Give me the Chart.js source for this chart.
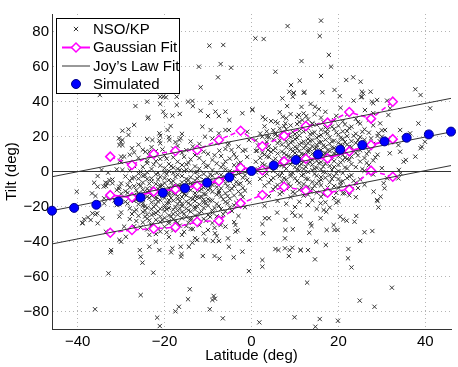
<!DOCTYPE html>
<html>
<head>
<meta charset="utf-8">
<script src="https://cdn.jsdelivr.net/npm/chart.js@4.4.1/dist/chart.umd.min.js"></script>
<style>
  html, body { margin: 0; padding: 0; background: #fff; }
</style>
</head>
<body>
<canvas id="tiltChart" width="458" height="367"></canvas>
<script>
// axis ticks
const latTicks = [-40, -20, 0, 20, 40];
const tiltTicks = [-80, -60, -40, -20, 0, 20, 40, 60, 80];

// NSO/KP observed regions [latitude, tilt]
const nsoSouth = [
  [-24,18.5],[-19,19.6],[-14,17.2],[-9,18.8],[-21,20.4],[-16,21.5],
  [-26,15.3],[-21,16.1],[-17,14.6],[-12,15.8],[-8,16.4],[-3,14.2],[-23,13.9],
  [-25,12.4],[-22,11.6],[-18,13.1],[-15,12.2],[-11,11.3],[-6,12.9],[-2,11.8],[-27,10.9],
  [-28,9.6],[-23,10.3],[-20,9.1],[-16,10.7],[-13,9.4],[-10,10.1],[-7,8.8],[-4,9.9],
  [-26,7.8],[-21,7.2],[-18,8.1],[-14,6.9],[-12,7.7],[-9,6.6],[-5,7.4],[-1,8.3],[-24,6.2],
  [-30,5.4],[-24,4.8],[-22,5.9],[-19,4.3],[-17,5.6],[-15,4.1],[-11,5.2],[-8,4.6],[-6,5.8],[-3,4.4],
  [-27,3.1],[-25,2.6],[-21,3.4],[-18,2.2],[-16,3.7],[-13,2.9],[-10,3.3],[-7,2.4],[-4,3.6],[-2,2.1],[-20,1.8],
  [-31,1.2],[-28,0.6],[-23,1.4],[-19,0.3],[-15,1.1],[-14,0.4],[-12,1.6],[-9,0.8],[-6,1.3],[-5,0.2],[-1,0.9],[-17,1.5],
  [-33,-0.7],[-26,-1.2],[-24,-0.4],[-22,-1.6],[-18,-0.9],[-17,-1.8],[-13,-0.6],[-11,-1.4],[-8,-0.8],[-7,-1.9],[-3,-1.1],[-20,-0.3],
  [-29,-2.8],[-27,-3.4],[-25,-2.5],[-21,-3.1],[-20,-3.8],[-16,-2.6],[-14,-3.3],[-12,-2.9],[-10,-3.6],[-9,-2.4],[-6,-3.2],[-4,-2.7],[-2,-3.5],[-23,-3.9],
  [-32,-4.6],[-28,-5.3],[-24,-4.4],[-23,-5.7],[-19,-4.9],[-18,-5.5],[-15,-4.3],[-13,-5.1],[-11,-4.7],[-8,-5.8],[-7,-4.2],[-5,-5.4],[-1,-4.8],[-26,-4.1],[-16,-6.2],
  [-30,-6.8],[-26,-7.4],[-25,-6.3],[-22,-7.1],[-20,-6.6],[-17,-7.8],[-14,-6.9],[-12,-7.3],[-10,-6.4],[-9,-7.7],[-6,-6.7],[-3,-7.2],[-21,-7.9],[-15,-6.1],
  [-34,-8.6],[-28,-9.1],[-27,-8.4],[-23,-9.5],[-21,-8.8],[-19,-9.3],[-18,-8.2],[-15,-9.7],[-13,-8.5],[-11,-9.2],[-8,-8.9],[-7,-9.6],[-4,-8.3],[-2,-9.4],[-16,-8.1],[-24,-9.8],
  [-31,-10.6],[-29,-11.3],[-25,-10.4],[-24,-11.7],[-22,-10.9],[-20,-11.5],[-17,-10.2],[-16,-11.8],[-14,-10.7],[-12,-11.1],[-10,-10.5],[-9,-11.6],[-5,-10.8],[-3,-11.4],[-19,-12.1],[-13,-12.3],
  [-30,-12.7],[-27,-13.4],[-26,-12.5],[-23,-13.8],[-21,-12.9],[-19,-13.3],[-18,-12.6],[-15,-13.6],[-13,-13.9],[-11,-12.8],[-8,-13.2],[-6,-12.4],[-4,-13.7],[-17,-14.2],[-22,-14.5],
  [-33,-15.4],[-28,-14.8],[-25,-15.6],[-24,-14.4],[-22,-15.9],[-20,-15.1],[-17,-15.7],[-16,-14.6],[-14,-15.3],[-12,-14.9],[-10,-15.8],[-7,-14.3],[-5,-15.5],[-2,-14.7],[-19,-16.3],[-11,-16.1],
  [-29,-17.3],[-27,-16.8],[-23,-17.6],[-21,-16.4],[-19,-17.9],[-18,-16.6],[-15,-17.2],[-13,-16.9],[-11,-17.7],[-9,-16.5],[-6,-17.4],[-3,-16.7],[-25,-18.2],[-16,-18.4],
  [-31,-19.2],[-26,-18.7],[-25,-19.6],[-22,-18.9],[-20,-19.4],[-17,-18.6],[-16,-19.8],[-14,-19.1],[-12,-18.8],[-10,-19.5],[-8,-18.5],[-4,-19.3],[-20,-20.6],[-13,-20.3],
  [-28,-21.1],[-24,-20.7],[-23,-21.6],[-21,-21.3],[-19,-20.9],[-18,-21.8],[-15,-21.2],[-13,-21.7],[-11,-20.8],[-7,-21.4],[-5,-20.5],[-17,-22.4],[-9,-22.2],
  [-30,-23.4],[-27,-22.8],[-25,-23.1],[-22,-23.7],[-20,-22.6],[-16,-23.3],[-14,-22.9],[-12,-23.8],[-9,-23.5],[-6,-22.7],[-18,-24.2],[-24,-24.6],
  [-26,-25.3],[-23,-24.8],[-21,-25.7],[-19,-25.1],[-17,-24.7],[-15,-25.9],[-13,-25.2],[-10,-24.9],[-8,-25.6],[-3,-25.4],[-20,-26.5],[-14,-26.8],
  [-28,-27.2],[-24,-26.9],[-22,-27.6],[-18,-27.3],[-16,-26.7],[-14,-27.8],[-11,-27.1],[-7,-26.6],[-19,-28.4],
  [-25,-29.1],[-21,-28.8],[-19,-29.6],[-17,-29.3],[-13,-28.7],[-9,-29.4],[-4,-28.9],[-23,-30.2],
  [-27,-31.3],[-23,-30.8],[-20,-31.6],[-15,-31.2],[-12,-30.7],[-6,-31.5],[-18,-32.4],
  [-24,-33.1],[-18,-33.6],[-14,-32.8],[-10,-33.4],[-21,-34.3],
  [-22,-35.7],[-16,-36.2],[-11,-35.4],[-19,-37.5],[-13,-38.1],[-8,-36.9]
];

// extra points in the dense southern core
const nsoSouthCore = [
  [-22.5,4.0],[-18.5,3.1],[-14.5,4.9],[-10.5,2.7],[-6.5,3.9],[-2.5,5.1],[-16.5,0.8],
  [-25.5,-0.1],[-21.5,-0.8],[-19.5,-1.5],[-15.5,0.2],[-12.5,-0.2],[-9.5,-1.7],[-4.5,-0.6],[-1.5,-2.2],
  [-27.5,-3.9],[-24.5,-2.2],[-21.5,-4.6],[-17.5,-3.1],[-14.5,-4.8],[-12.5,-3.9],[-9.5,-5.1],[-6.5,-4.4],[-3.5,-5.9],[-0.5,-6.3],
  [-28.5,-7.6],[-25.5,-8.2],[-23.5,-6.9],[-20.5,-7.9],[-18.5,-6.3],[-16.5,-8.6],[-13.5,-7.4],[-11.5,-8.2],[-8.5,-6.1],[-5.5,-8.4],[-2.5,-6.8],
  [-30.5,-9.9],[-26.5,-10.7],[-23.5,-11.1],[-21.5,-9.9],[-18.5,-10.6],[-15.5,-11.2],[-14.5,-9.3],[-11.5,-10.1],[-9.5,-9.6],[-7.5,-11.2],[-4.5,-9.8],[-1.5,-10.9],
  [-28.5,-12.2],[-25.5,-13.9],[-22.5,-12.1],[-20.5,-13.8],[-17.5,-12.7],[-15.5,-12.9],[-12.5,-14.6],[-10.5,-13.1],[-7.5,-12.3],[-5.5,-14.1],[-2.5,-12.8],
  [-31.5,-16.5],[-26.5,-16.3],[-23.5,-15.1],[-21.5,-17.1],[-18.5,-15.2],[-16.5,-16.9],[-13.5,-15.8],[-11.5,-14.5],[-9.5,-16.6],[-6.5,-15.9],[-3.5,-17.9],
  [-28.5,-18.3],[-24.5,-19.9],[-22.5,-20.1],[-19.5,-18.2],[-17.5,-20.2],[-14.5,-18.1],[-12.5,-19.9],[-10.5,-18.2],[-7.5,-19.7],[-5.5,-18.1],[-1.5,-20.4],
  [-26.5,-21.9],[-24.5,-22.3],[-21.5,-22.7],[-19.5,-21.6],[-16.5,-21.1],[-14.5,-22.2],[-11.5,-22.9],[-8.5,-20.9],[-4.5,-22.6],
  [-27.5,-24.3],[-24.5,-25.8],[-22.5,-24.2],[-18.5,-25.7],[-15.5,-24.1],[-12.5,-26.2],[-9.5,-25.9],[-6.5,-24.4],
  [-26.5,-28.3],[-23.5,-27.9],[-20.5,-27.7],[-17.5,-28.4],[-14.5,-29.3],[-10.5,-28.1],[-7.5,-28.7],
  [-25.5,-31.9],[-21.5,-32.6],[-16.5,-30.9],[-13.5,-32.9],[-8.5,-32.2],[-19.5,-34.8],[-15.5,-34.5],[-23.5,-36.2],
  [-23.5,8.9],[-19.5,7.3],[-15.5,8.4],[-12.5,10.9],[-8.5,9.3],[-3.5,7.9],[-20.5,12.6],[-17.5,16.8],[-13.5,14.3],[-5.5,15.2]
];

const nsoNorth = [
  [12,33.2],[17,34.1],[22,32.6],[9,32.8],
  [8,30.4],[13,29.7],[16,30.8],[19,29.3],[24,30.1],[27,29.6],
  [6,27.6],[11,28.3],[14,27.2],[18,27.9],[21,28.6],[25,27.4],
  [3,25.8],[9,26.3],[12,25.4],[15,26.7],[17,25.2],[20,26.1],[23,25.6],[28,26.4],
  [5,23.6],[8,24.2],[11,23.3],[13,24.7],[16,23.9],[19,24.4],[22,23.1],[26,24.1],[30,23.5],
  [2,21.7],[7,22.3],[10,21.4],[12,22.8],[14,21.9],[17,22.5],[20,21.2],[21,22.9],[24,21.6],[27,22.2],
  [4,19.6],[6,20.4],[9,19.8],[11,20.6],[15,19.3],[16,20.9],[18,19.5],[22,20.2],[25,19.7],[29,20.3],[13,18.6],
  [1,17.8],[5,18.3],[8,17.4],[10,18.5],[12,17.1],[14,17.9],[17,18.2],[19,17.6],[21,18.7],[23,17.3],[26,18.1],[20,16.4],
  [3,15.7],[6,16.2],[7,15.3],[9,16.6],[11,15.5],[13,16.1],[15,15.2],[16,16.8],[18,15.9],[22,15.4],[24,16.3],[28,15.8],[31,16.1],
  [2,13.6],[4,14.4],[8,13.8],[10,14.1],[12,13.3],[14,14.6],[15,13.7],[17,14.2],[19,13.4],[21,14.7],[23,13.9],[26,14.3],[13,12.4],
  [1,11.8],[5,12.2],[7,11.4],[9,12.6],[11,11.7],[13,11.2],[16,12.3],[18,11.6],[20,12.8],[22,11.3],[25,12.1],[27,11.5],[17,10.6],
  [3,9.7],[6,10.3],[8,9.4],[10,10.6],[12,9.8],[14,10.2],[15,9.3],[17,9.9],[19,10.4],[21,9.5],[24,10.7],[29,9.6],[11,8.6],
  [2,7.8],[4,8.4],[7,7.5],[9,8.2],[11,7.3],[13,7.9],[16,8.3],[18,7.6],[20,8.7],[22,7.2],[23,8.5],[26,7.7],[14,6.6],
  [1,5.6],[5,6.2],[8,5.4],[10,6.5],[12,5.8],[15,6.1],[16,5.3],[19,5.9],[21,6.4],[25,5.7],[28,6.3],[13,4.6],
  [3,3.7],[6,4.3],[7,3.5],[9,4.1],[11,3.3],[14,3.9],[17,4.4],[18,3.2],[20,3.8],[23,4.2],[27,3.6],
  [2,1.8],[4,2.3],[8,1.6],[10,2.4],[12,1.4],[15,2.1],[16,1.2],[19,2.6],[22,1.7],[24,2.5],[30,1.9],
  [1,-0.4],[5,0.3],[7,-0.8],[11,0.6],[13,-0.2],[14,0.8],[17,-0.6],[20,0.2],[21,-0.9],[26,0.4],[9,-1.3],
  [3,-2.3],[6,-1.8],[9,-2.6],[12,-1.6],[15,-2.4],[18,-1.9],[19,-2.7],[23,-2.1],[28,-1.7],[16,-3.2],
  [2,-4.2],[5,-3.7],[8,-4.6],[10,-3.9],[13,-4.4],[16,-4.8],[17,-3.6],[20,-4.3],[22,-3.8],[25,-4.5],
  [4,-6.3],[7,-5.8],[11,-6.6],[14,-5.9],[15,-6.8],[18,-6.2],[21,-5.6],[24,-6.4],[12,-7.2],
  [3,-8.1],[6,-7.7],[9,-8.4],[13,-8.7],[16,-7.9],[19,-8.3],[22,-8.8],[26,-7.6],
  [5,-10.2],[8,-9.6],[11,-10.5],[14,-9.8],[17,-10.7],[20,-9.4],[23,-10.1],
  [2,-12.3],[7,-11.8],[10,-12.6],[15,-12.1],[18,-11.6],[21,-12.4],[13,-13.2],
  [4,-14.1],[9,-14.6],[12,-13.8],[16,-14.4],[19,-15.2],[24,-14.7],
  [6,-16.8],[11,-17.3],[14,-16.4],[17,-17.6],[20,-16.9],[8,-18.4],
  [3,-19.6],[10,-20.3],[13,-19.2],[18,-20.6],[15,-21.4]
];

// extra points in the dense northern core
const nsoNorthCore = [
  [10.5,31.2],[14.5,32.7],[19.5,31.8],[15.5,35.6],[20.5,36.4],[11.5,36.9],[6.5,33.9],
  [7.5,25.9],[10.5,27.1],[13.5,26.2],[16.5,28.4],[18.5,25.6],[21.5,26.9],[24.5,28.2],[4.5,28.8],
  [3.5,22.9],[6.5,24.6],[9.5,22.6],[12.5,23.9],[14.5,22.4],[17.5,24.1],[19.5,22.2],[22.5,24.8],[25.5,22.7],
  [2.5,19.9],[5.5,21.1],[8.5,20.6],[10.5,19.2],[13.5,21.3],[15.5,20.2],[17.5,21.8],[20.5,19.1],[23.5,20.4],[27.5,18.9],
  [3.5,16.9],[6.5,17.7],[9.5,17.2],[11.5,16.3],[13.5,17.6],[15.5,16.6],[18.5,17.2],[21.5,16.8],[24.5,17.9],[29.5,17.3],
  [1.5,14.8],[5.5,13.3],[8.5,15.1],[10.5,13.2],[12.5,14.9],[14.5,13.1],[16.5,14.8],[18.5,13.7],[20.5,15.3],[22.5,14.2],[25.5,15.1],
  [2.5,10.6],[4.5,11.2],[7.5,10.4],[9.5,11.6],[11.5,10.1],[13.5,12.7],[15.5,11.1],[17.5,12.2],[19.5,10.9],[23.5,11.8],[26.5,10.1],
  [3.5,8.6],[5.5,7.3],[8.5,8.8],[10.5,7.7],[12.5,9.1],[14.5,8.1],[16.5,9.6],[18.5,8.5],[21.5,7.9],[24.5,9.2],[28.5,8.1],
  [2.5,4.6],[6.5,5.1],[9.5,5.8],[11.5,4.2],[13.5,5.5],[15.5,4.7],[17.5,6.1],[20.5,5.2],[22.5,6.6],[26.5,4.9],
  [1.5,1.2],[5.5,2.4],[7.5,2.9],[10.5,1.1],[12.5,2.7],[14.5,1.6],[16.5,2.8],[18.5,0.9],[21.5,2.3],[25.5,1.4],
  [3.5,-1.2],[6.5,-2.7],[9.5,-0.8],[11.5,-2.3],[14.5,-1.4],[16.5,-0.3],[19.5,-1.1],[22.5,-2.8],[27.5,-0.6],
  [4.5,-4.9],[7.5,-3.8],[10.5,-5.4],[12.5,-4.1],[15.5,-5.6],[18.5,-4.2],[20.5,-6.1],[23.5,-5.3],
  [5.5,-8.8],[8.5,-7.1],[11.5,-9.3],[14.5,-8.2],[17.5,-9.1],[20.5,-7.8],[24.5,-9.4],
  [6.5,-12.9],[9.5,-11.7],[13.5,-11.3],[16.5,-13.1],[19.5,-12.2],[22.5,-13.6]
];

const nsoOutliers = [
  [-34.9,43.7],[-26.7,37.4],[-24,39.9],[-21,42.7],[-20.3,42.7],[-19.7,42.4],[-17.2,42.7],[-23.7,31],[-11.7,48.1],
  [-12.1,59.9],[-7.7,53.8],[-9.7,71.9],[-6.5,72.3],[-7.1,61.4],[-13.6,40.3],
  [8.3,83.1],[16,86.2],[0.9,76.1],[2.8,75.7],[15.7,77.4],[17.8,66.6],[11.5,63.1],[18.3,59.9],[-4.7,59.3],[5.5,57],
  [16,54.6],[11.1,51.9],[9.1,49.4],[21.8,52.3],[23.4,53.8],[25.1,51.3],[8.7,45.6],[9.7,44.7],[12.2,45.4],[16.3,45.3],
  [19.1,46.6],[20.3,43.1],[25.4,45.6],[27.4,45.6],[25.2,42.4],[37.7,47],[38.9,43.7],[41.1,36.1],[28.9,40.9],[31.2,40.5],
  [23.5,40.5],[28,39],[0.2,35.5],[-2.1,33.3],
  [-21,38.6],[-17.2,38],[-23.9,30.4],[-27,26.6],[-20.3,34.2],[-19.8,31.9],[-18.2,31.9],[-16.5,32.9],[-29.7,23.3],
  [-28.3,24.1],[-28.3,20.9],[-29.7,18],[-30.4,15.1],[-27.5,13.3],[-21.2,21.8],[-22.8,18],[-21.2,17.6],[-18.9,18],
  [-16.6,18],[-19.3,23.7],[-18.6,26],[-16.3,19],[-24.4,11.3],[-23.5,11.3],[-30,8.5],[-29.3,8.5],[-34.5,0.9],[-29.7,0.9],
  [-13.5,37.4],[-14.6,39.9],[-9.4,39.3],[-11.7,34.7],[-10,31.7],[-8.3,34.2],[-7.5,31.7],[-6,34.2],[-5.1,29.4],
  [0.2,35.1],[2.6,31],[3.2,29.8],[7.2,31.3],[7.8,27.5],[7.1,41.8],[9.5,42.7],[9.7,45],[12,45],[13.6,38.6],[14.6,37],
  [8.2,37.4],[10.9,32.3],[11.7,29.4],[12.6,31.7],[14,27.5],[5.5,28.5],[5.4,21.8],[3.6,19.9],[-1,22.7],[-0.6,18],
  [-6,23.7],[-5.2,23.7],[-9.4,23.7],[-7.5,21.8],[-10.7,19.9],[-11.3,25.6],[-5.2,16.1],[-7.4,11.9],[-4.6,12.3],
  [-1.4,12.3],[1.3,11.9],[3.8,12.3],
  [31.9,36.1],[31.5,32.3],[34.2,11.3],[35.5,6.6],[38.4,27.5],[36.5,21.8],[39.2,14.2],[39.9,17],[35.2,18.4],[33.8,15.1],
  [34.2,23.7],[25.4,42.7],[27.7,39.9],[25.7,44.7],[30,19.9],[30.7,23.7],[29.2,21.8],[29.6,27.5],[28,33.3],[26.1,35.1],
  [37.7,8.5],[38.9,13.3],[35,5.6],[33.9,0.9],[34.3,-1],[31.2,-3.9],[30.4,-6.7],[28.9,-16.3],[29.7,-14.4],[31.8,10.4],
  [28.1,-11.5],
  [29.2,-20.5],[29,-16.9],[30.6,-9.6],[33.8,-3.9],[24.1,-25.4],[23.7,-28.7],[20.4,-25.8],[21.1,-27.4],[21.9,-28.1],
  [18.9,-30.6],[19.1,-33.4],[19.8,-33.4],[26,-34.7],[27.8,-34],[25,-39.7],[22.3,-44.3],[17.1,-42],[17.3,-33.4],
  [15.9,-26.7],[17.2,-23],[16.6,-22],[15.9,-18.2],[19.5,-17.8],[21.4,-12.5],
  [-3.7,-34.4],[2.5,-30],[4,-26.7],[5.9,-23.5],[7.8,-27.7],[9.4,-23.5],[10,-25.3],[11.3,-25.4],[13.6,-29.6],
  [13.8,-31.1],[7.8,-33.4],[9.5,-33],[-3.2,-33.6],[2.7,-35.3],[5.5,-44.3],[7.7,-43.9],[9.4,-43.6],[11.3,-44.9],
  [7.7,-38.2],[13.3,-35],[14.9,-40.1],[-8.4,-35.3],[-7.5,-39.7],[-10.6,-39.1],[-8.9,-39.7],[-12.5,-39.1],
  [-13.6,-40.7],[-5.4,-38.2],[-2.1,-45.8],[-0.6,-39.1],[-7.1,-30.6],[-3.7,-30.6],[-14.4,-43],[-5.2,-43],[3.1,-26.7],
  [-40.2,-11.5],[-35.4,-2.6],[-36.2,-6.4],[-35.4,-8.7],[-33.5,-8.3],[-33.1,-6.7],[-36.7,-12.5],[-35.9,-14],
  [-36.6,-23.9],[-35.9,-24.5],[-38.5,-27.3],[-38.9,-29.3],[-35.4,-29.6],[-33.5,-34.4],[-30.4,-39.1],[-30,-40.1],
  [-28.9,-37.3],[-32.3,-44.9],[-25.7,-44.9],[-23.5,-43],[-22,-40.1],[-21.2,-44.9],[-18.2,-43.9],[-16.3,-43],
  [-34.3,-26.7],[-33.9,-18.2],[-32.7,-4.9],[-32,-6.7],[-30.4,-8.7],[-33.9,-15.3],[-30.4,-25.8],[-29.3,-31.5],
  [-37.6,-26.2],[-37,-27.7],[-38.9,-29.6],[-35.5,-23.9],[-30.5,19],[-30.1,17],[-29.7,15.1],[-30.3,6],[-27.8,3.7],
  [-33.6,-6.4],
  [-32.4,-46.2],[-25.5,-48.7],[-25.1,-52.1],[-32.9,-58.2],[-22.6,-57.8],[-36,-78.7],[-25.5,-70.6],[-21.7,-83.5],
  [-21.1,-88.3],[-18.5,-46.2],[-16.1,-47.1],[-16.2,-48.7],[-11.2,-48.3],[-8.5,-48.3],[-7.4,-49.8],[-4.1,-49.1],
  [-0.6,-56.9],[-14.2,-67.3],[-14.6,-73],[-8.7,-71.1],[-8.4,-72.7],[-9,-73.4],[-16.7,-77.3],[-17.5,-79.9],
  [-9.6,-78.7],[-6.6,-83.9],[2.5,-54.4],[2.5,-50.6],[1.8,-86.2],[8.6,-48.3],[12.8,-63.5],[14.6,-50.2],[9.9,-83.3],
  [14.7,-88.7],[15.7,-84.3],[19.9,-85.3],[22.2,-49.6],[23,-54.8],[24.9,-73.8],[28.3,-77.3],[32.3,-66.4],
  [6.2,-44.9],[8.8,-44.9],[11.3,-44.9],[13,-44.9]
];

// Gaussian fit per 5 degree latitude bin
const gaussLat = [-32.5, -27.5, -22.5, -17.5, -12.5, -7.5, -2.5, 2.5, 7.5, 12.5, 17.5, 22.5, 27.5, 32.5];
const gaussMean = [-13.5, -14.8, -11.5, -10.2, -8.2, -5.4, 2.1, 0.7, 5.8, 7.3, 7.5, 11.5, 15.1, 18.5];
const gaussUpper = [8.5, 3.7, 10, 11.7, 12.3, 18, 23.3, 14.4, 20.5, 26, 27.9, 34, 30.2, 39.9];
const gaussLower = [-35, -33.4, -32.7, -31.9, -28.7, -28.1, -18.2, -13.4, -8.7, -11, -12.1, -10.2, 0.5, -3];

// Joy's law fit, ends of each line
const joyLat = [-45.9, 45.9];
const joyMean = [-22.4, 22.6];
const joyUpper = [-3.0, 41.8];
const joyLower = [-41.4, 3.4];
const zeroTilt = [0, 0];

// simulated tilts
const simLat = [-45.9, -40.8, -35.7, -30.6, -25.5, -20.4, -15.3, -10.2, -5.1, 0, 5.1, 10.2, 15.3, 20.4, 25.5, 30.6, 35.7, 40.8, 45.9];
const simTilt = [-22.4, -20.8, -19.0, -17.1, -14.9, -12.2, -9.6, -6.4, -3.3, 0.3, 3.5, 6.6, 9.8, 12.5, 15.1, 17.2, 19.3, 21.2, 22.8];

const MAGENTA = '#ff00ff';
const pairs = (xs, ys) => xs.map((x, i) => ({ x: x, y: ys[i] }));
const pts = arr => arr.map(p => ({ x: p[0], y: p[1] }));
const minus = v => String(v).replace('-', '\u2212');

Chart.defaults.font.family = '"Liberation Sans", Arial, sans-serif';
Chart.defaults.font.size = 15;
Chart.defaults.color = '#000';

// legend box drawn inside the axes, matlab style
const boxLegend = {
  id: 'boxLegend',
  afterDraw(chart) {
    const ctx = chart.ctx;
    const draw = Chart.helpers.drawPoint;
    ctx.save();
    ctx.fillStyle = '#fff';
    ctx.fillRect(56.5, 18.5, 123, 75);

    const rows = [29, 47.5, 66, 84];
    const lx = 76;

    // NSO/KP
    ctx.strokeStyle = '#333'; ctx.lineWidth = 1;
    draw(ctx, { pointStyle: 'crossRot', radius: 3, borderWidth: 1, rotation: 0 }, lx, rows[0]);

    // Gaussian
    ctx.strokeStyle = MAGENTA; ctx.lineWidth = 2;
    ctx.beginPath(); ctx.moveTo(62, rows[1]); ctx.lineTo(90, rows[1]); ctx.stroke();
    ctx.fillStyle = '#fff'; ctx.lineWidth = 1.5;
    draw(ctx, { pointStyle: 'rectRot', radius: 4.5, borderWidth: 1.5, rotation: 0 }, lx, rows[1]);

    // Joy's law
    ctx.strokeStyle = '#333'; ctx.lineWidth = 1;
    ctx.beginPath(); ctx.moveTo(62, rows[2]); ctx.lineTo(90, rows[2]); ctx.stroke();

    // Simulated
    ctx.fillStyle = '#0000ff'; ctx.strokeStyle = '#00008b';
    draw(ctx, { pointStyle: 'circle', radius: 4.5, borderWidth: 1, rotation: 0 }, lx, rows[3]);

    ctx.fillStyle = '#000';
    ctx.font = '15px "Liberation Sans", Arial, sans-serif';
    ctx.textBaseline = 'middle';
    ctx.textAlign = 'left';
    ['NSO/KP', 'Gaussian Fit', 'Joy\u2019s Law Fit', 'Simulated'].forEach((t, i) => {
      ctx.fillText(t, 93, rows[i] + 0.5);
    });

    ctx.strokeStyle = '#000'; ctx.lineWidth = 1;
    ctx.strokeRect(56.5, 18.5, 123, 75);
    ctx.restore();
  }
};

const joyLine = ys => ({
  data: pairs(joyLat, ys),
  showLine: true,
  borderColor: '#333',
  borderWidth: 1,
  pointRadius: 0,
  order: 1
});

const sigmaLine = ys => ({
  data: pairs(gaussLat, ys),
  showLine: true,
  borderColor: MAGENTA,
  borderWidth: 1.5,
  borderDash: [5, 3],
  pointStyle: 'rectRot',
  pointRadius: 4.5,
  pointBorderWidth: 1.5,
  backgroundColor: '#fff',
  order: 2
});

new Chart(document.getElementById('tiltChart'), {
  type: 'scatter',
  data: {
    datasets: [
      {
        label: 'Simulated',
        data: pairs(simLat, simTilt),
        pointStyle: 'circle',
        pointRadius: 4.5,
        backgroundColor: '#0000ff',
        borderColor: '#00008b',
        borderWidth: 1,
        clip: false,
        order: 0
      },
      joyLine(joyMean),
      joyLine(joyUpper),
      joyLine(joyLower),
      joyLine(zeroTilt),
      {
        label: 'Gaussian Fit',
        data: pairs(gaussLat, gaussMean),
        showLine: true,
        borderColor: MAGENTA,
        borderWidth: 2,
        pointStyle: 'rectRot',
        pointRadius: 4.5,
        pointBorderWidth: 1.5,
        backgroundColor: '#fff',
        order: 2
      },
      sigmaLine(gaussUpper),
      sigmaLine(gaussLower),
      {
        label: 'NSO/KP',
        data: pts(nsoSouth.concat(nsoSouthCore, nsoNorth, nsoNorthCore, nsoOutliers)),
        pointStyle: 'crossRot',
        pointRadius: 3,
        borderColor: '#333',
        borderWidth: 1,
        order: 5
      }
    ]
  },
  options: {
    responsive: false,
    animation: false,
    events: [],
    layout: { padding: { top: 14, right: 7, left: 0, bottom: 0 } },
    plugins: {
      legend: { display: false },
      tooltip: { enabled: false }
    },
    scales: {
      x: {
        type: 'linear',
        min: -45.9,
        max: 45.9,
        afterBuildTicks: s => { s.ticks = latTicks.map(v => ({ value: v })); },
        afterFit: s => { s.height = 38; },
        ticks: { padding: 4, maxRotation: 0, callback: minus },
        grid: { color: '#b4b4b4', lineWidth: 1, drawTicks: false },
        border: { color: '#333', width: 1, dash: [1, 3] },
        title: { display: true, text: 'Latitude (deg)', padding: { top: 0, bottom: 2 } }
      },
      y: {
        type: 'linear',
        min: -90,
        max: 90,
        afterBuildTicks: s => { s.ticks = tiltTicks.map(v => ({ value: v })); },
        afterFit: s => { s.width = 52; },
        ticks: { padding: 3, callback: minus },
        grid: { color: '#b4b4b4', lineWidth: 1, drawTicks: false },
        border: { color: '#333', width: 1, dash: [1, 3] },
        title: { display: true, text: 'Tilt (deg)', padding: { top: 3, bottom: 0 } }
      }
    }
  },
  plugins: [boxLegend]
});
</script>
</body>
</html>
